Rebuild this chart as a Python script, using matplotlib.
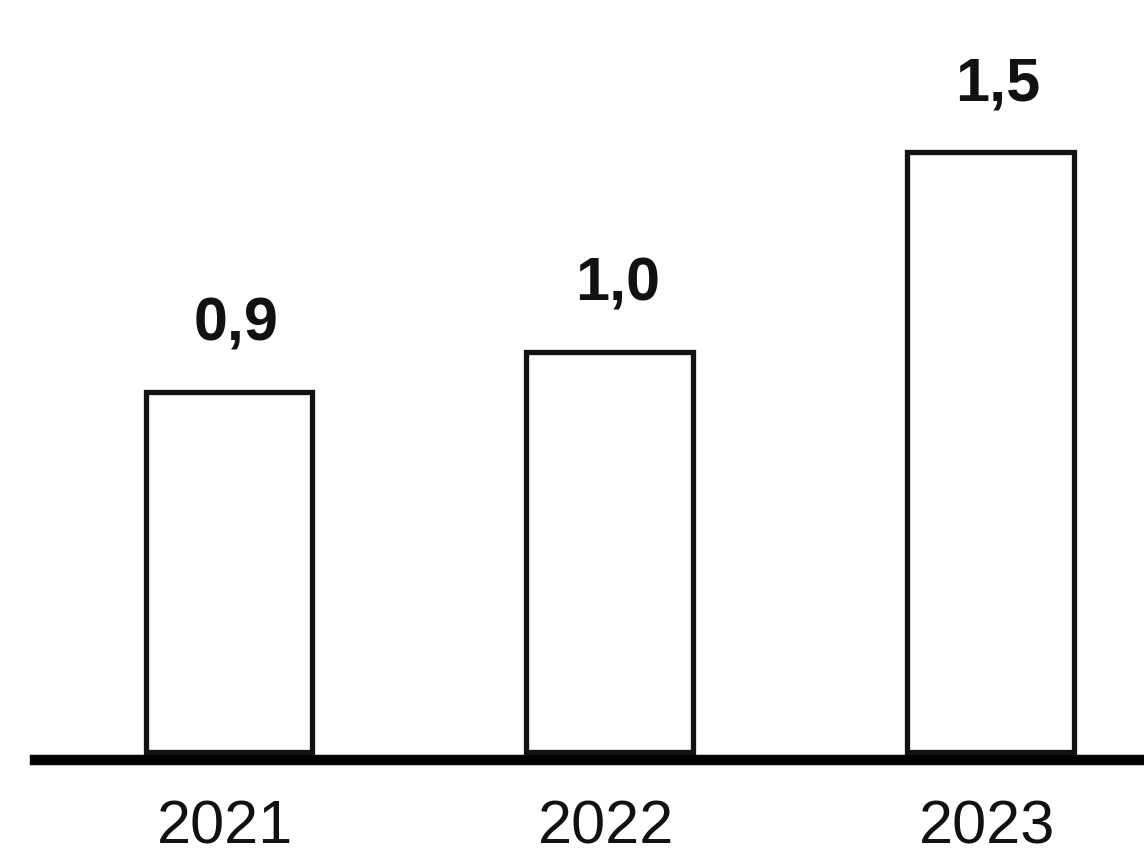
import numpy as np
import matplotlib
matplotlib.use("Agg")
import matplotlib.pyplot as plt

years = ["2021", "2022", "2023"]
values = [0.9, 1.0, 1.5]
value_labels = ["0,9", "1,0", "1,5"]

plt.rcParams["font.family"] = ["Liberation Sans", "DejaVu Sans"]

fig = plt.figure(figsize=(11.44, 8.61), dpi=100)
ax = fig.add_axes([0, 0, 1, 1])
ax.set_xlim(-0.6, 2.403)
ax.set_ylim(-0.2725, 1.88)
ax.axis("off")

xs = np.arange(len(years))
ax.bar(xs, values, width=0.436, facecolor="white", edgecolor="#111111",
       linewidth=3.8, zorder=2)

# thick baseline under the bars
ax.axhline(-0.02, xmin=35 / 1144, xmax=1, color="black", linewidth=7.5, zorder=3)

for x, v, lab in zip(xs, values, value_labels):
    ax.text(x + 0.02, v + 0.13, lab, ha="center", va="baseline",
            fontsize=44, fontweight="bold", color="#111111")

for x, yr in zip(xs, years):
    ax.text(x - 0.01, -0.228, yr, ha="center", va="baseline",
            fontsize=44, color="#111111")

fig.savefig("out.png", dpi=100)
